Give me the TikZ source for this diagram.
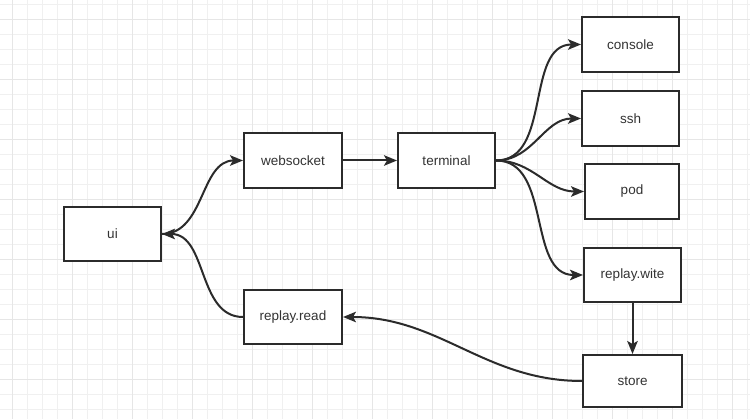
\documentclass[tikz,border=0pt]{standalone}
\usepackage{fontspec}
\setmainfont{Liberation Sans}
\usetikzlibrary{arrows.meta}
\definecolor{gridminor}{HTML}{F0F0F0}
\definecolor{gridmajor}{HTML}{E6E6E6}
\definecolor{ink}{HTML}{2B2B2B}
\definecolor{txt}{HTML}{333333}
\tikzset{
  box/.style={draw=ink, line width=2pt, fill=white, inner sep=0pt,
    minimum width=97pt, minimum height=54pt, text=txt, font=\fontsize{13.5}{15}\selectfont},
  conn/.style={draw=ink, line width=2pt, -{Stealth[length=13pt,width=10.5pt,inset=3pt]}},
}
\begin{document}
\begin{tikzpicture}[x=1pt,y=-1pt]
\useasboundingbox (0,0) rectangle (750,419);
\fill[white] (0,0) rectangle (750,419);
\foreach \x in {-3,12,...,750} \draw[gridminor, line width=1pt] (\x,0) -- (\x,419);
\foreach \y in {5,20,...,419} \draw[gridminor, line width=1pt] (0,\y) -- (750,\y);
\foreach \x in {12,72,...,750} \draw[gridmajor, line width=1pt] (\x,0) -- (\x,419);
\foreach \y in {20,80,...,419} \draw[gridmajor, line width=1pt] (0,\y) -- (750,\y);

\node[box] (ui) at (112.5,234) {ui};
\node[box, minimum width=98pt, minimum height=55pt] (ws) at (293,160.5) {websocket};
\node[box, minimum width=98pt] (rr) at (293,317) {replay.read};
\node[box, minimum height=55pt] (term) at (446.5,160.5) {terminal};
\node[box, minimum height=55pt] (console) at (630.5,44.5) {console};
\node[box, minimum height=55pt] (ssh) at (630.5,118.5) {ssh};
\node[box, minimum width=94pt, minimum height=55pt] (pod) at (632,191.5) {pod};
\node[box] (rw) at (632.5,275) {replay.wite};
\node[box, minimum width=99pt, minimum height=52pt] (store) at (632.5,381) {store};

\draw[conn] (ui.east) to[out=0,in=180] (ws.west);
\draw[conn] (rr.west) to[out=180,in=0] (ui.east);
\draw[conn] (ws.east) -- (term.west);
\draw[conn] (term.east) to[out=0,in=180] (console.west);
\draw[conn] (term.east) to[out=0,in=180] (ssh.west);
\draw[conn] (term.east) to[out=0,in=180] (pod.west);
\draw[conn] (term.east) to[out=0,in=180] (rw.west);
\draw[conn] (rw.south) -- (store.north);
\draw[conn] (store.west) to[out=180,in=0] (rr.east);
\end{tikzpicture}
\end{document}
